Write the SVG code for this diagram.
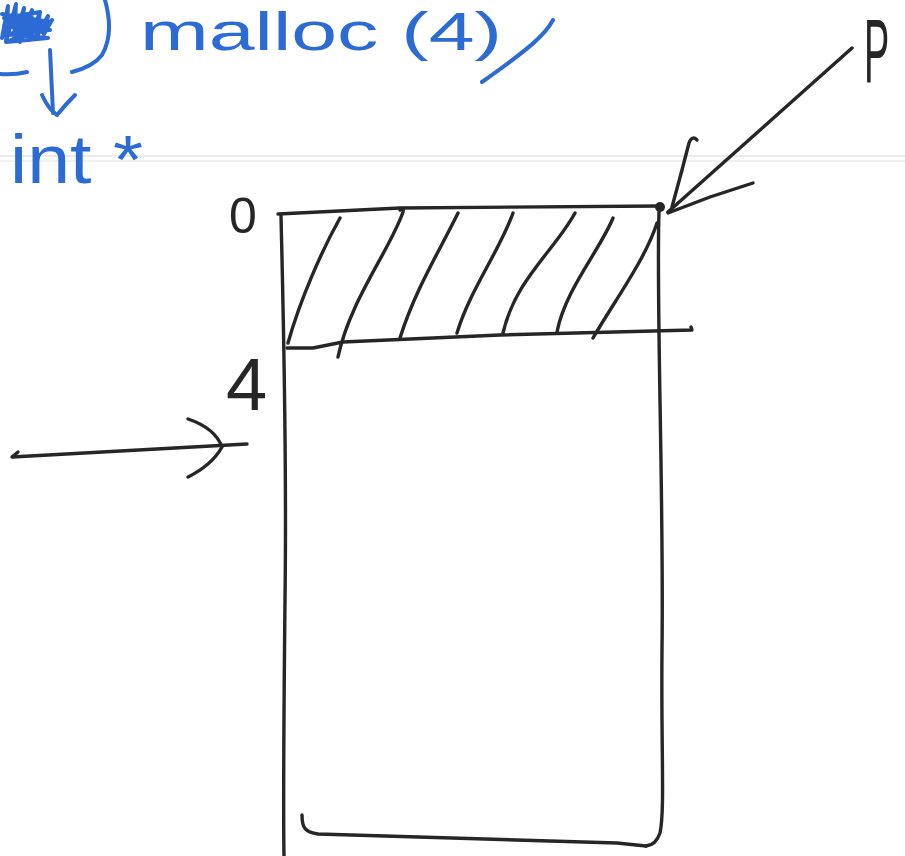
<svg xmlns="http://www.w3.org/2000/svg" width="905" height="856" viewBox="0 0 905 856">
<style>
.ink{fill:none;stroke:#262626;stroke-width:3.4;stroke-linecap:round;stroke-linejoin:round}
.blue{fill:none;stroke:#2d6bd4;stroke-width:4;stroke-linecap:round;stroke-linejoin:round}
.bt{fill:#2d6bd4;font-family:"Liberation Sans",Arial,sans-serif}
.kt{fill:#262626;font-family:"Liberation Sans",Arial,sans-serif}
</style>
<rect width="905" height="856" fill="#ffffff"/>
<g id="paper-line">
<line x1="0" y1="156" x2="905" y2="156" stroke="#e4e4e4" stroke-width="1.5"/>
<line x1="0" y1="161" x2="905" y2="161" stroke="#ececec" stroke-width="1.5"/>
</g>
<g id="code">
<path class="blue" stroke-width="5" d="M2,38 L8,6 L6,42 L16,4 L14,40 L24,8 L20,42 L32,10 L30,40 L40,12 L36,38 L48,16 L44,34 L52,20 M2,14 L50,22 L4,26 L50,30 L4,34 L48,38 L6,42 L46,26 L4,18 L40,12 M10,22 L28,30 L14,36 L34,20 L22,14 L42,32"/>
<path class="blue" d="M105,0 C110,18 112,38 102,55 C95,64 84,69 72,72"/>
<path class="blue" d="M0,74 Q15,75 27,72"/>
<path class="blue" d="M50,50 L53,113"/>
<path class="blue" d="M42,95 Q49,110 57,115 Q66,104 75,95"/>
<text class="bt" x="10" y="183" font-size="68" textLength="133" lengthAdjust="spacingAndGlyphs">int *</text>
<text class="bt" x="140" y="50" font-size="54" textLength="362" lengthAdjust="spacingAndGlyphs">malloc (4)</text>
<path class="blue" d="M553,20 C545,35 530,48 482,82"/>
</g>
<g id="memory-block">
<path class="ink" d="M278,214 L400,208 L660,206"/>
<path class="ink" d="M281,216 C283,300 287,450 285,600 C284,700 283,800 284,856"/>
<path class="ink" d="M659,212 C656,300 664,500 662,650 C661,750 665,810 660,833 Q656,845 646,846"/>
<path class="ink" d="M302,815 C302,828 305,832 318,834 L617,843 L646,846"/>
<path class="ink" d="M287,348 L313,348 L343,342 L500,335 L692,330 L691,327"/>
<path class="ink" d="M340,218 C322,250 300,300 288,343"/>
<path class="ink" d="M400,210 Q404,206 403,212 C390,250 350,300 338,357"/>
<path class="ink" d="M458,213 C440,250 415,290 400,338"/>
<path class="ink" d="M513,213 C500,250 470,290 457,333"/>
<path class="ink" d="M575,213 C555,250 515,280 503,333"/>
<path class="ink" d="M613,218 C600,250 565,290 557,332"/>
<path class="ink" d="M657,223 C645,260 615,300 593,338"/>
<circle cx="660" cy="207" r="5" fill="#262626"/>
<text class="kt" x="229" y="233" font-size="50">0</text>
<text class="kt" x="226" y="410" font-size="74">4</text>
</g>
<g id="connectors">
<path class="ink" d="M852,48 L668,212"/>
<path class="ink" d="M697,140 Q692,135 689,143 L682,170 L672,207"/>
<path class="ink" d="M753,183 L710,197 L668,213"/>
<path class="ink" d="M18,452 L12,457 L247,444"/>
<path class="ink" d="M188,419 Q215,428 222,447 Q212,465 188,477"/>
</g>
<g id="label-p">
<text class="kt" transform="translate(864,82) scale(0.42,1)" font-size="90">P</text>
</g>
</svg>
